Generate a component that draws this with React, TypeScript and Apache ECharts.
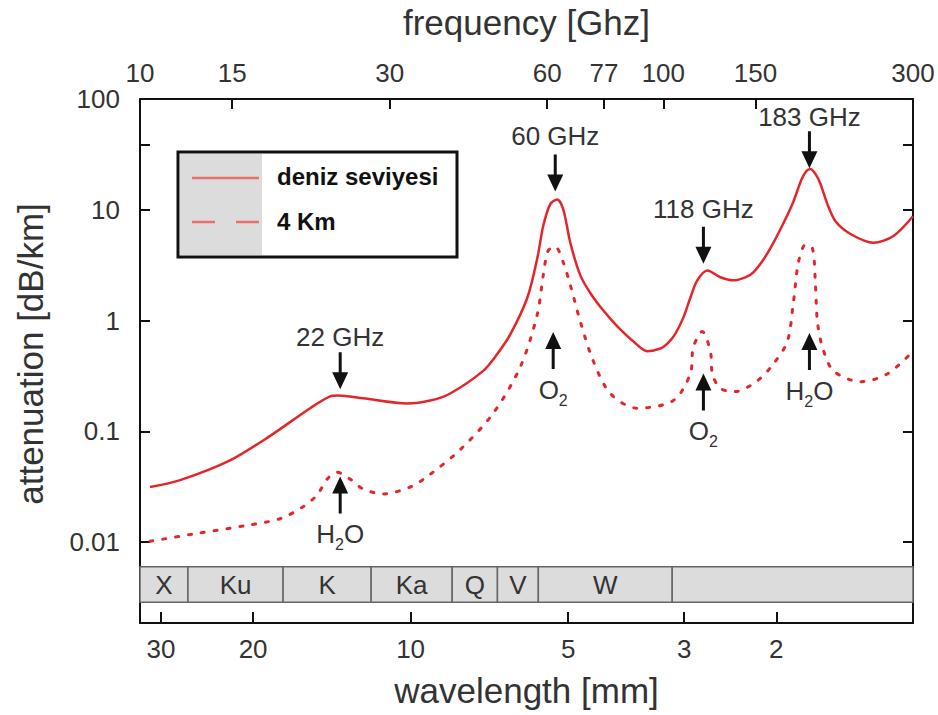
import React, { useEffect, useRef } from 'react';
import * as echarts from 'echarts';

// ---- axis ticks ----
const freqTicks = [10, 15, 30, 60, 77, 100, 150, 300];
const wavelengthTicks = [30, 20, 10, 5, 3, 2];
const attenuationLabels = [0.01, 0.1, 1, 10, 100];
const attenuationTicks = [0.01, 0.1, 1, 10, 39, 100];

// ---- sea level (deniz seviyesi) ----
const seaFreq = [10.45, 11.93, 14.86, 17.73, 21.14, 23.08, 23.91, 26.7, 32.4, 35.85, 39.15, 45.27, 48.15, 51.0, 54.95, 57.42, 58.95, 60.79, 62.71, 64.39, 66.42, 69.41, 72.53, 75.79, 79.19, 82.75, 87.61, 93.2, 98.7, 101.8, 105.4, 109.2, 112.6, 116.1, 121.4, 128.5, 136.1, 143.5, 148.6, 155.4, 162.3, 169.7, 177.3, 183.6, 187.7, 191.0, 195.3, 199.6, 205.9, 213.3, 227.9, 252, 275.3, 300];
const seaAtt = [0.0315, 0.0363, 0.0547, 0.0912, 0.162, 0.207, 0.211, 0.199, 0.179, 0.19, 0.22, 0.352, 0.499, 0.751, 1.6, 3.63, 7.13, 11.2, 12.4, 10.1, 5.04, 2.56, 1.774, 1.331, 1.042, 0.832, 0.65, 0.53, 0.56, 0.62, 0.76, 1.064, 1.6, 2.31, 2.84, 2.46, 2.31, 2.46, 2.73, 3.56, 5.04, 7.59, 11.9, 18.7, 22.4, 23.4, 21.1, 17.2, 11.2, 7.9, 6.05, 5.04, 5.81, 8.75];

// ---- 4 km ----
const kmFreq = [10.45, 12.85, 16.02, 18.52, 20.5, 21.8, 22.78, 23.8, 25.21, 26.7, 29.15, 32.84, 35.85, 40.92, 47.32, 53.3, 57.42, 58.95, 60.26, 62.16, 64.39, 66.42, 69.41, 73.48, 79.19, 89, 104.5, 112.6, 114.1, 118.7, 123.0, 124.1, 128.5, 137.3, 151.3, 162.3, 172.6, 177.3, 181.2, 186.9, 192.8, 195.3, 197.0, 201.4, 211.4, 238.1, 268.2, 300];
const kmAtt = [0.0102, 0.012, 0.0142, 0.0163, 0.0209, 0.0267, 0.0371, 0.0428, 0.0371, 0.0302, 0.0273, 0.0315, 0.041, 0.0685, 0.146, 0.382, 1.13, 2.56, 4.28, 4.64, 3.35, 2.09, 0.98, 0.432, 0.22, 0.162, 0.19, 0.331, 0.575, 0.798, 0.53, 0.331, 0.244, 0.229, 0.287, 0.406, 0.65, 1.476, 3.35, 4.83, 4.46, 2.09, 0.98, 0.575, 0.352, 0.281, 0.331, 0.53];

// ---- frequency bands strip ----
const bandNames = ['X', 'Ku', 'K', 'Ka', 'Q', 'V', 'W', ''];
const bandEdges = [10, 12.35, 18.77, 27.65, 39.5, 48.2, 57.7, 104, 300];
const bandAttRange = [0.00287, 0.006];

// ---- annotations (arrow centre in data units) ----
const annText = ['22 GHz', 'H2O', '60 GHz', 'O2', '118 GHz', 'O2', '183 GHz', 'H2O'];
const annFreq = [24.13, 24.13, 62.16, 61.6, 119.3, 119.3, 190.2, 190.2];
const annAtt = [0.352, 0.0267, 21.5, 0.536, 4.79, 0.227, 34.9, 0.525];
const annDir = ['down', 'up', 'down', 'up', 'down', 'up', 'down', 'up'];
const annGap = [2, 8, 5, 8, 5, 8, 1, 8];

const RED = '#e3262b';
const FONT = 'Liberation Sans, Arial, Helvetica, sans-serif';
const DOWN = 'path://M6.5,0 L9.5,0 L9.5,20 L16,20 L8,37 L0,20 L6.5,20 Z';
const UP = 'path://M8,0 L16,17 L9.5,17 L9.5,37 L6.5,37 L6.5,17 L0,17 Z';

const fmt = (v: number) => String(+Number(v).toPrecision(6));

export default function App() {
  const ref = useRef<HTMLDivElement>(null);
  useEffect(() => {
    if (!ref.current) return;
    const chart = echarts.init(ref.current, undefined, { renderer: 'svg' });
    const axisLine = { show: true, lineStyle: { color: '#111', width: 2 } };
    const tickStyle = { color: '#111', width: 2 };
    const yMin = 0.001866;
    const richText = (t: string) => {
      if (t === 'H2O') return '{n|H}{s|2}{n|O}';
      if (t === 'O2') return '{n|O}{s|2}';
      return '{m|' + t + '}';
    };
    const rich = {
      m: { fontSize: 26, lineHeight: 26, color: '#333', fontFamily: FONT },
      n: { fontSize: 26, lineHeight: 26, verticalAlign: 'top', color: '#333', fontFamily: FONT },
      s: { fontSize: 16, lineHeight: 31, verticalAlign: 'bottom', color: '#333', fontFamily: FONT },
    };
    const markData = annText.map((t, i) => ({
      coord: [annFreq[i], annAtt[i]],
      symbol: annDir[i] === 'down' ? DOWN : UP,
      symbolSize: [16, 37],
      label: {
        show: true,
        position: annDir[i] === 'down' ? 'top' : 'bottom',
        distance: annGap[i],
        formatter: richText(t),
        rich,
      },
    }));
    const areaData = bandNames.map((nm, i) => [
      { name: nm, xAxis: bandEdges[i], yAxis: bandAttRange[0] },
      { xAxis: bandEdges[i + 1], yAxis: bandAttRange[1] },
    ]);
    const nameStyle = { fontSize: 35, color: '#333', fontFamily: FONT };
    chart.setOption({
      animation: false,
      textStyle: { fontFamily: FONT },
      grid: { left: 140, right: 25, top: 91, bottom: 92, containLabel: false },
      xAxis: [
        {
          type: 'log', position: 'top', min: 10, max: 300,
          name: 'frequency [Ghz]', nameLocation: 'middle', nameGap: 59,
          nameTextStyle: nameStyle,
          axisLine,
          axisTick: { show: true, inside: true, length: 10, lineStyle: tickStyle, customValues: freqTicks },
          axisLabel: { customValues: freqTicks, fontSize: 26, color: '#333', margin: 13, formatter: fmt, fontFamily: FONT },
          splitLine: { show: false }, minorTick: { show: false },
        },
        {
          type: 'log', position: 'bottom', inverse: true, min: 1.096, max: 32.9,
          name: 'wavelength [mm]', nameLocation: 'middle', nameGap: 50,
          nameTextStyle: nameStyle,
          axisLine,
          axisTick: { show: true, inside: true, length: 11, lineStyle: tickStyle, customValues: wavelengthTicks },
          axisLabel: { customValues: wavelengthTicks, fontSize: 26, color: '#333', margin: 13, formatter: fmt, fontFamily: FONT },
          splitLine: { show: false }, minorTick: { show: false },
        },
      ],
      yAxis: [
        {
          type: 'log', position: 'left', min: yMin, max: 100,
          name: 'attenuation [dB/km]', nameLocation: 'middle', nameGap: 92, nameRotate: 90,
          nameTextStyle: { fontSize: 35, color: '#333', fontFamily: FONT, padding: [0, 0, 0, 14] },
          axisLine,
          axisTick: { show: true, inside: true, length: 10, lineStyle: tickStyle, customValues: attenuationTicks },
          axisLabel: { customValues: attenuationLabels, fontSize: 26, color: '#333', margin: 20, formatter: fmt, fontFamily: FONT },
          splitLine: { show: false }, minorTick: { show: false },
        },
        {
          type: 'log', position: 'right', min: yMin, max: 100,
          axisLine,
          axisTick: { show: true, inside: true, length: 10, lineStyle: tickStyle, customValues: attenuationTicks },
          axisLabel: { show: false },
          splitLine: { show: false }, minorTick: { show: false },
        },
      ],
      series: [
        {
          name: 'deniz seviyesi', type: 'line', xAxisIndex: 0, yAxisIndex: 0,
          data: seaFreq.map((f, i) => [f, seaAtt[i]]),
          showSymbol: false, smooth: 0.3, silent: true,
          lineStyle: { color: RED, width: 2.5 },
          markPoint: { silent: true, itemStyle: { color: '#111' }, data: markData },
          z: 3,
        },
        {
          name: '4 Km', type: 'line', xAxisIndex: 0, yAxisIndex: 0,
          data: kmFreq.map((f, i) => [f, kmAtt[i]]),
          showSymbol: false, smooth: 0.3, silent: true,
          lineStyle: { color: RED, width: 3, type: [3, 10], cap: 'round' },
          markArea: {
            silent: true,
            itemStyle: { color: '#dcdcdc', borderColor: '#666', borderWidth: 1.5 },
            label: { show: true, position: 'inside', fontSize: 26, color: '#333', fontFamily: FONT },
            data: areaData,
          },
          z: 3,
        },
      ],
      graphic: [
        { type: 'rect', shape: { x: 178, y: 152, width: 279, height: 105 }, style: { fill: '#fff', stroke: '#111', lineWidth: 3 }, z: 10 },
        { type: 'rect', shape: { x: 180, y: 154, width: 82, height: 101 }, style: { fill: '#dcdcdc' }, z: 11 },
        { type: 'line', shape: { x1: 192, y1: 178, x2: 259, y2: 178 }, style: { stroke: '#e8706a', lineWidth: 2.5 }, z: 12 },
        { type: 'line', shape: { x1: 192, y1: 222, x2: 259, y2: 222 }, style: { stroke: '#e8706a', lineWidth: 2.5, lineDash: [23, 21] }, z: 12 },
        { type: 'text', x: 277, y: 176, style: { text: 'deniz seviyesi', fontSize: 24, fontWeight: 'bold', fill: '#111', fontFamily: FONT, verticalAlign: 'middle' }, z: 12 },
        { type: 'text', x: 277, y: 221, style: { text: '4 Km', fontSize: 24, fontWeight: 'bold', fill: '#111', fontFamily: FONT, verticalAlign: 'middle' }, z: 12 },
      ],
    });
    return () => chart.dispose();
  }, []);
  return <div ref={ref} style={{ position: 'fixed', left: 0, top: 0, width: 938, height: 715, background: '#fff' }} />;
}
